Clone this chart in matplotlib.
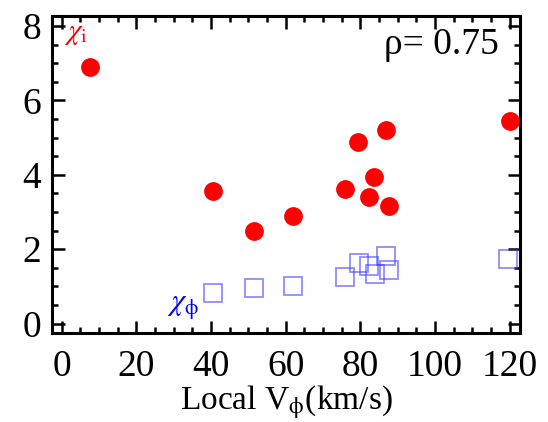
import numpy as np
import matplotlib
matplotlib.use("Agg")
import matplotlib.pyplot as plt
from matplotlib.ticker import MultipleLocator

# local V_phi (km/s) and the two chi values
v_phi_red = [7.6, 40.5, 51.6, 62.0, 76.0, 79.5, 86.9, 83.7, 82.4, 87.7, 120.0]
chi_i = [6.91, 3.56, 2.50, 2.88, 3.63, 4.88, 5.20, 3.95, 3.40, 3.17, 5.45]

v_phi_blue = [40.5, 51.6, 62.0, 76.0, 79.7, 82.3, 83.8, 87.0, 87.8, 119.5]
chi_phi = [0.83, 0.96, 1.01, 1.25, 1.62, 1.55, 1.33, 1.81, 1.45, 1.73]

rho_text = "ρ= 0.75"


def main():
    plt.rcParams['font.family'] = ['Liberation Serif', 'DejaVu Serif']
    plt.rcParams['mathtext.fontset'] = 'stix'

    fig = plt.figure(figsize=(5.48, 4.22), dpi=100)
    ax = fig.add_axes([0.095, 0.212, 0.854, 0.750])

    ax.plot(v_phi_red, chi_i, 'o', color='red', ms=12.5, mec='red', zorder=3)
    ax.plot(v_phi_blue, chi_phi, 's', mfc='none', mec=(0.25, 0.25, 1.0, 0.6),
            mew=1.3, ms=13, zorder=2)

    ax.set_xlim(-2.6, 122.8)
    ax.set_ylim(-0.24, 8.27)
    ax.xaxis.set_major_locator(MultipleLocator(20))
    ax.xaxis.set_minor_locator(MultipleLocator(5))
    ax.yaxis.set_major_locator(MultipleLocator(2))
    ax.yaxis.set_minor_locator(MultipleLocator(0.5))

    ax.tick_params(which='both', direction='in', top=True, right=True,
                   width=1.8, labelsize=27)
    ax.tick_params(which='major', length=9)
    ax.tick_params(which='minor', length=4)
    ax.tick_params(axis='x', pad=12)
    ax.tick_params(axis='y', pad=8)
    for s in ax.spines.values():
        s.set_linewidth(2.2)

    ax.set_xlabel(r'Local V$_{\mathrm{\phi}}$(km/s)', fontsize=24, labelpad=-0.5)

    ax.text(0.955, 0.91, rho_text, transform=ax.transAxes, ha='right',
            va='center', fontsize=27)
    ax.text(0.026, 0.942, r'$\chi_{\rm i}$', transform=ax.transAxes,
            color='red', fontsize=21, ha='left', va='center')
    ax.text(0.245, 0.08, r'$\chi_{\mathrm{\phi}}$', transform=ax.transAxes,
            color='blue', fontsize=22, ha='left', va='center')

    fig.savefig('out.png', dpi=100)


if __name__ == "__main__":
    main()
